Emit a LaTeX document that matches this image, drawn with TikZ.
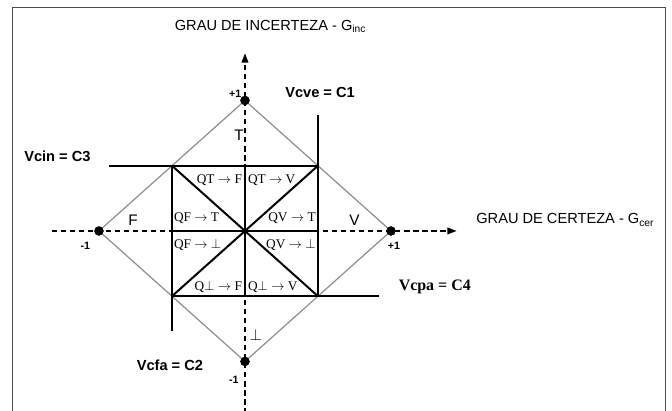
\documentclass[tikz,border=0pt]{standalone}
\usepackage{fontspec}
\setmainfont{Liberation Sans}
\newfontfamily\qfont{Liberation Serif}
\usetikzlibrary{positioning,arrows.meta}
\definecolor{diamondgray}{gray}{0.55}
\definecolor{framegray}{gray}{0.3}

\begin{document}
\begin{tikzpicture}[
  x=3.86cm,y=3.45cm,
  every node/.style={font=\fontsize{11}{13}\selectfont,inner sep=1pt},
  dot/.style={circle,fill=black,inner sep=0pt,minimum size=7pt},
  axisline/.style={line width=1.1pt,dash pattern=on 4pt off 2.8pt},
  edge/.style={diamondgray,line width=0.9pt},
  boldline/.style={line width=1.5pt},
  vlabel/.style={font=\fontsize{11}{13}\selectfont\bfseries},
  unit/.style={font=\fontsize{8}{9}\selectfont\bfseries},
  qlabel/.style={font=\fontsize{10}{12}\selectfont\qfont},
  region/.style={font=\fontsize{11.5}{13}\selectfont},
  >={Triangle[length=7pt,width=5pt]}
]
  \useasboundingbox (-1.678,-1.379) rectangle (2.925,1.770);

  % frame
  \draw[framegray,line width=0.8pt] (-1.591,-1.40) -- (-1.591,1.714) -- (2.882,1.714) -- (2.882,-1.40);

  % axes
  \coordinate (xmin) at (-1.324,0);
  \coordinate (xmax) at (1.45,0);
  \coordinate (ymin) at (0,-1.40);
  \coordinate (ymax) at (0,1.362);
  \draw[axisline,->] (xmin) -- (xmax);
  \draw[axisline,->] (ymin) -- (ymax);

  \node (ginc) at (0.175,1.567) {GRAU DE INCERTEZA - G\textsubscript{inc}};
  \node (gcer) at (2.194,0.084) {GRAU DE CERTEZA - G\textsubscript{cer}};

  % extreme points
  \node[dot] (ptop) at (0,1) {};
  \node[dot] (pbot) at (0,-1) {};
  \node[dot] (plft) at (-1,0) {};
  \node[dot] (prgt) at (1,0) {};

  % inner square corners
  \coordinate (ne) at (0.5,0.5);
  \coordinate (nw) at (-0.5,0.5);
  \coordinate (se) at (0.5,-0.5);
  \coordinate (sw) at (-0.5,-0.5);
  \coordinate (nm) at (0,0.5);
  \coordinate (sm) at (0,-0.5);
  \coordinate (wm) at (-0.5,0);
  \coordinate (em) at (0.5,0);

  % free ends of the limit lines
  \coordinate (c1end) at (0.5,0.885);
  \coordinate (c2end) at (-0.5,-0.77);
  \coordinate (c3end) at (-0.93,0.5);
  \coordinate (c4end) at (0.92,-0.5);

  % diamond
  \draw[edge] (ptop.center) -- (prgt.center) -- (pbot.center) -- (plft.center) -- cycle;

  % limit lines
  \draw[boldline] (c3end) -- (ne) -- (c1end);
  \draw[boldline] (c2end) -- (sw) -- (c4end);
  \draw[boldline] (nw) -- (sw);
  \draw[boldline] (ne) -- (se);
  \draw[boldline] (nm) -- (sm);
  \draw[boldline] (wm) -- (em);
  \draw[boldline] (nw) -- (se);
  \draw[boldline] (sw) -- (ne);

  % redraw dots on top
  \foreach \p in {ptop,pbot,plft,prgt}
    \fill (\p.center) circle (3.5pt);

  % unit labels
  \node[unit,anchor=east] (utop) at (-0.015,1.05) {+1};
  \node[unit] (ubot) at (-0.077,-1.142) {-1};
  \node[unit] (ulft) at (-1.094,-0.115) {-1};
  \node[unit] (urgt) at (1.02,-0.115) {+1};

  % limit labels
  \node[vlabel] (lc1) at (0.514,1.061) {Vcve = C1};
  \node[vlabel] (lc3) at (-1.285,0.569) {Vcin = C3};
  \node[vlabel] (lc2) at (-0.514,-1.031) {Vcfa = C2};
  \node[font=\fontsize{12}{14}\selectfont\qfont\bfseries] (lc4) at (1.30,-0.43) {Vcpa = C4};

  % region labels
  \node[region] (rt) at (-0.04,0.73) {T};
  \node[region] (rf) at (-0.766,0.084) {F};
  \node[region] (rv) at (0.75,0.084) {V};
  \node[font=\fontsize{13}{15}\selectfont] (rb) at (0.075,-0.797) {$\perp$};

  % quasi states
  \node[qlabel,anchor=east] (qtf) at (-0.01,0.39) {QT $\rightarrow$ F};
  \node[qlabel,anchor=west] (qtv) at (0.01,0.39) {QT $\rightarrow$ V};
  \node[qlabel,anchor=west] (qft) at (-0.497,0.097) {QF $\rightarrow$ T};
  \node[qlabel,anchor=east] (qvt) at (0.495,0.097) {QV $\rightarrow$ T};
  \node[qlabel,anchor=west] (qfb) at (-0.497,-0.107) {QF $\rightarrow$ $\perp$};
  \node[qlabel,anchor=east] (qvb) at (0.495,-0.107) {QV $\rightarrow$ $\perp$};
  \node[qlabel,anchor=east] (qbf) at (-0.01,-0.427) {Q$\perp$ $\rightarrow$ F};
  \node[qlabel,anchor=west] (qbv) at (0.01,-0.427) {Q$\perp$ $\rightarrow$ V};
\end{tikzpicture}
\end{document}
